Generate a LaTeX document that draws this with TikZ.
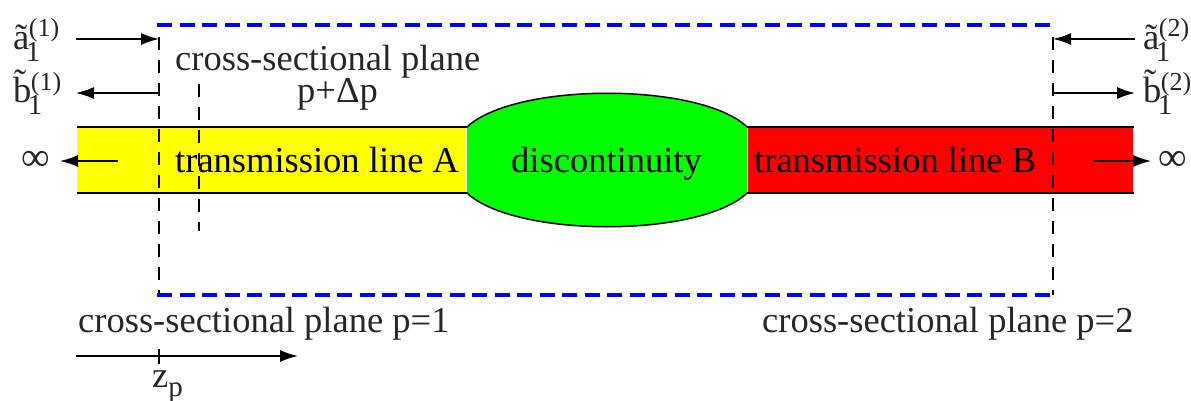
\documentclass[tikz,border=0pt]{standalone}
\usepackage{fontspec}
\setmainfont{Liberation Serif}
\usetikzlibrary{arrows.meta}
\definecolor{purey}{RGB}{255,255,0}
\definecolor{pureg}{RGB}{0,255,0}
\definecolor{purer}{RGB}{255,0,0}
\definecolor{pureb}{RGB}{0,0,255}
\tikzset{
  lbl/.style={inner sep=0pt,anchor=base west,font=\fontsize{36.5}{38}\selectfont,text=black!85},
  big/.style={inner sep=0pt,anchor=base west,font=\fontsize{36.5}{38}\selectfont},
  inf/.style={inner sep=0pt,font=\fontsize{40}{42}\selectfont,text=black!85},
  arr/.style={line width=1.6pt,-{Latex[length=18pt,width=12pt]}},
  plane/.style={line width=1.4pt,dash pattern=on 13pt off 10pt},
  box/.style={line width=3.6pt,pureb,dash pattern=on 15pt off 7.5pt},
  rail/.style={line width=1.5pt}
}
\newcommand{\supfont}{\fontsize{26}{28}\selectfont}
\newcommand{\subfont}{\fontsize{29}{30}\selectfont}
\newcommand{\wavesym}[2]{#1\rlap{\kern-0.5pt\raisebox{13pt}{\supfont(#2)}}\rlap{\kern-3.5pt\raisebox{-12pt}{\subfont 1}}}
\newcommand{\tb}{\rlap{\raisebox{8pt}{\kern1pt ˜}}b}
\begin{document}
\begin{tikzpicture}[x=1pt,y=-1pt]
\useasboundingbox (0,0) rectangle (1191,401);
% coordinates
\coordinate (tlA) at (77,127); \coordinate (blA) at (77,193);
\coordinate (trA) at (467,127); \coordinate (brA) at (467,193);
\coordinate (tlB) at (747,127); \coordinate (blB) at (747,193);
\coordinate (trB) at (1134,127); \coordinate (brB) at (1134,193);
% fills
\fill[purey] (77,127) rectangle (466,193);
\fill[purer] (748,127) rectangle (1133,193);
\fill[pureg] (trA) .. controls (515,82) and (700,82) .. (tlB) -- (blB) .. controls (700,238) and (515,238) .. (brA) -- cycle;
\draw[rail] (trA) .. controls (515,82) and (700,82) .. (tlB);
\draw[rail] (brA) .. controls (515,238) and (700,238) .. (blB);
\draw[rail] (tlA) -- (trA); \draw[rail] (blA) -- (brA);
\draw[rail] (tlB) -- (trB); \draw[rail] (blB) -- (brB);
% planes
\coordinate (p1t) at (159,37); \coordinate (p1b) at (159,295);
\coordinate (p2t) at (1053,37); \coordinate (p2b) at (1053,295);
\coordinate (pdt) at (199,84); \coordinate (pdb) at (199,231);
\draw[plane] (p1t) -- (p1b);
\draw[plane] (p2t) -- (p2b);
\draw[plane] (pdt) -- (pdb);
% blue box
\coordinate (bxtl) at (157,25); \coordinate (bxtr) at (1053,25);
\coordinate (bxbl) at (157,295); \coordinate (bxbr) at (1053,295);
\draw[box] (bxtl) -- (bxtr);
\draw[box] (bxbl) -- (bxbr);
% text
\node[big] (lineA) at (175,172) {transmission line A};
\node[big] (disc) at (511,172) {discontinuity};
\node[big] (lineB) at (754,172) {transmission line B};
\node[lbl] (cs) at (175,71) {cross-sectional plane};
\node[lbl] (pdp) at (297,103) {p+Δp};
\node[lbl] (cs1) at (78,332) {cross-sectional plane p=1};
\node[lbl] (cs2) at (762,332) {cross-sectional plane p=2};
\node[lbl] (a1) at (13,50) {\wavesym{ã}{1}};
\node[lbl] (b1) at (13,103) {\wavesym{\tb}{1}};
\node[lbl] (a2) at (1143,50) {\wavesym{ã}{2}};
\node[lbl] (b2) at (1143,103) {\wavesym{\tb}{2}};
\node[lbl] (zp) at (152,387) {z\raisebox{-9pt}{\subfont p}};
\node[inf] (infL) at (36,161) {∞};
\node[inf] (infR) at (1173,161) {∞};
% arrows
\coordinate (a1s) at (76,39); \coordinate (a1e) at (159,39);
\coordinate (b1s) at (159,93); \coordinate (b1e) at (76,93);
\coordinate (a2s) at (1135,39); \coordinate (a2e) at (1053,39);
\coordinate (b2s) at (1053,93); \coordinate (b2e) at (1135,93);
\coordinate (iLs) at (118,161); \coordinate (iLe) at (60,161);
\coordinate (iRs) at (1093,161); \coordinate (iRe) at (1151,161);
\coordinate (zs) at (76,356); \coordinate (ze) at (298,356);
\coordinate (tickt) at (159,349); \coordinate (tickb) at (159,364);
\draw[arr] (a1s) -- (a1e);
\draw[arr] (b1s) -- (b1e);
\draw[arr] (a2s) -- (a2e);
\draw[arr] (b2s) -- (b2e);
\draw[arr] (iLs) -- (iLe);
\draw[arr] (iRs) -- (iRe);
\draw[arr] (zs) -- (ze);
\draw[line width=1.4pt] (tickt) -- (tickb);
\end{tikzpicture}
\end{document}
